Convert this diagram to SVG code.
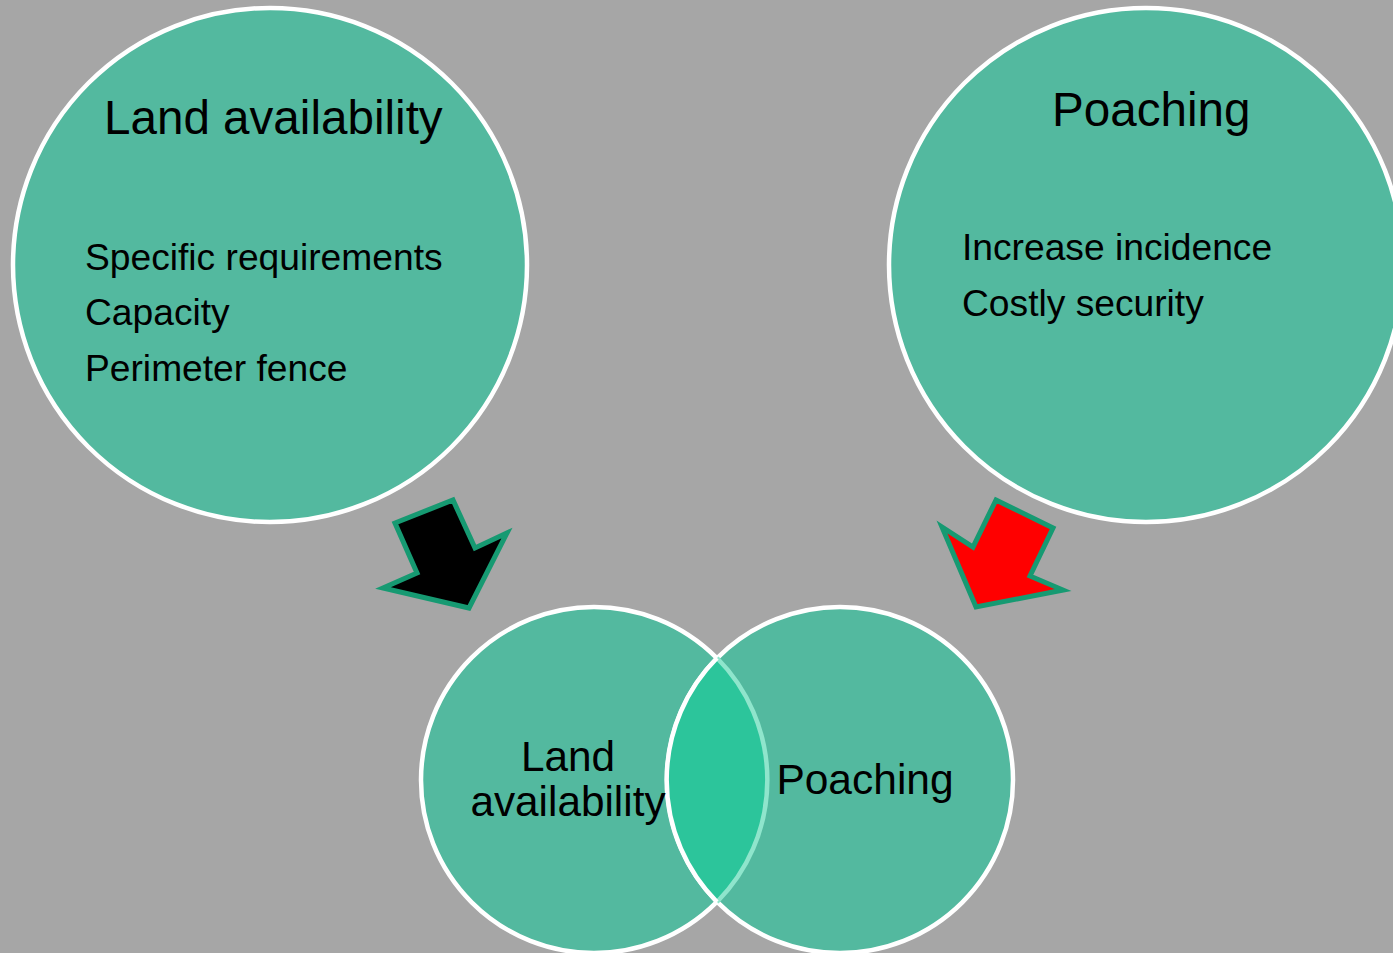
<svg xmlns="http://www.w3.org/2000/svg" width="1393" height="953" viewBox="0 0 1393 953">
<style>
.c{fill:#53B99F;stroke:#FFFFFF;stroke-width:4.5}
.t{font-family:"Liberation Sans",Arial,sans-serif;fill:#000}
.arrow{stroke:#169A72;stroke-width:5;stroke-linejoin:miter}
</style>
<rect width="1393" height="953" fill="#A6A6A6"/>
<g id="node-land">
<circle class="c" cx="270" cy="265" r="257"/>
<text class="t" x="104" y="134" font-size="47.6">Land availability</text>
<text class="t" x="85" y="270" font-size="37.2">Specific requirements</text>
<text class="t" x="85" y="325" font-size="37.2">Capacity</text>
<text class="t" x="85" y="381" font-size="37.2">Perimeter fence</text>
</g>
<g id="node-poaching">
<circle class="c" cx="1146" cy="265" r="257"/>
<text class="t" x="1052" y="126" font-size="47.6">Poaching</text>
<text class="t" x="962" y="260" font-size="37.2">Increase incidence</text>
<text class="t" x="962" y="316" font-size="37.2">Costly security</text>
</g>
<g id="connectors">
<polygon class="arrow" fill="#000000" points="395,523 453,500 475,548 507,533 469,608 383,588 417,573"/>
<polygon class="arrow" fill="#FF0000" points="996,500 1053,528 1030,576 1063,590 976,607 942,527 973,547"/>
</g>
<g id="node-venn-land">
<circle class="c" cx="594" cy="780" r="173"/>
</g>
<g id="node-venn-poaching">
<circle class="c" cx="840" cy="780" r="173"/>
<path d="M717,658 A173,173 0 0 1 717,902 A173,173 0 0 1 717,658 Z" fill="#2CC59B"/>
<path d="M717,658 A173,173 0 0 1 717,902" fill="none" stroke="#8FE5CC" stroke-width="4.5"/>
<path d="M717,902 A173,173 0 0 1 717,658" fill="none" stroke="#FFFFFF" stroke-width="4.5"/>
<text class="t" x="568" y="771" font-size="42.3" text-anchor="middle">Land</text>
<text class="t" x="568" y="816" font-size="42.3" text-anchor="middle">availability</text>
<text class="t" x="865" y="794" font-size="42.5" text-anchor="middle">Poaching</text>
</g>
</svg>
